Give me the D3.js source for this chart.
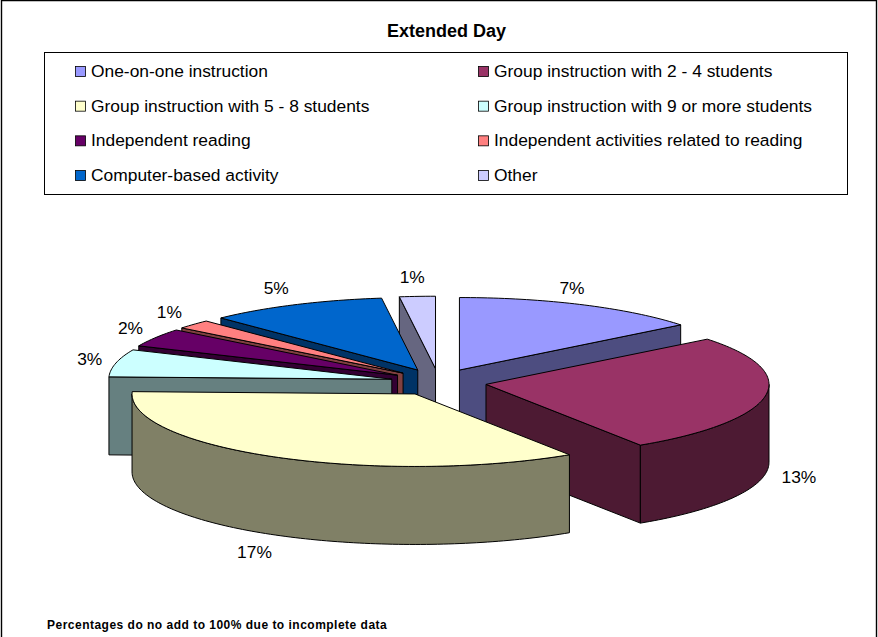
<!DOCTYPE html>
<html>
<head>
<meta charset="utf-8">
<style>
html,body{margin:0;padding:0;background:#fff;}
svg{display:block;}
text{font-family:"Liberation Sans",Arial,sans-serif;fill:#000;}
</style>
<script src="https://cdn.jsdelivr.net/npm/d3@7/dist/d3.min.js"></script>
</head>
<body>
<svg id="c" width="878" height="637"></svg>
<script>
const categories = ["One-on-one instruction","Group instruction with 2 - 4 students","Group instruction with 5 - 8 students","Group instruction with 9 or more students","Independent reading","Independent activities related to reading","Computer-based activity","Other"];
const values = [7,13,17,3,2,1,5,1];
const sliceColors = ["#9999FF","#993366","#FFFFCC","#CCFFFF","#660066","#FF8080","#0066CC","#CCCCFF"];
const wallColors = ["#4D4D80","#4D1A33","#808066","#668080","#330033","#804040","#003366","#666680"];
const drawOrder = [7,6,5,4,3,0,1,2];
const labelNudgeX = [-25,0,-5,7,4,1,-4,-3];
const titleText = "Extended Day";
const noteText = "Percentages do no add to 100% due to incomplete data";

const W = 878, H = 637;
const svg = d3.select("#c");
// frame: the reference shows no bottom edge
svg.append("path").attr("d",`M1.5,${H}V0.5H876.5V${H}`).attr("fill","none").attr("stroke","#000").attr("stroke-width",1.4);

svg.append("text").attr("x",446.5).attr("y",37).attr("text-anchor","middle")
  .attr("font-size",18).attr("font-weight","bold").text(titleText);

// legend
svg.append("rect").attr("x",44.5).attr("y",52.5).attr("width",803).attr("height",142)
  .attr("fill","#fff").attr("stroke","#000");
const legX = d3.scalePoint().domain([0,1]).range([75,478]);
const legY = d3.scaleLinear().domain([0,3]).range([66,170]);
const legend = svg.append("g").selectAll("g").data(categories).join("g")
  .attr("transform",(d,i)=>`translate(${legX(i%2)},${legY(Math.floor(i/2))})`);
legend.append("rect").attr("x",0.5).attr("y",0.5).attr("width",10).attr("height",10)
  .attr("fill",(d,i)=>sliceColors[i]).attr("stroke","#000").attr("stroke-width",0.8);
legend.append("text").attr("x",16).attr("y",11).attr("font-size",17.4).text(d=>d);

// 3-D exploded pie
const cx = 438.6, cy = 382.2, rx = 283, ry = 72.5, ex = 48, ey = 13.5, depth = 78;
const pie = d3.pie().sort(null).value(d=>d);
const arcs = pie(values);
const sx = d3.scaleLinear().domain([-1,1]).range([-rx,rx]);
const sy = d3.scaleLinear().domain([-1,1]).range([-ry,ry]);
const line = d3.line();
const pt = (a,ox,oy,dz=0)=>[ox+sx(Math.sin(a)), oy+sy(-Math.cos(a))+dz];
const arcPts = (a0,a1,ox,oy,dz=0)=>{
  const n = Math.max(2,Math.ceil((a1-a0)/0.02));
  return d3.range(n+1).map(i=>pt(a0+(a1-a0)*i/n,ox,oy,dz));
};
const pi = Math.PI;
const chart = svg.append("g").attr("stroke","#000").attr("stroke-width",1).attr("stroke-linejoin","round");
drawOrder.forEach(i=>{
  const d = arcs[i], a0=d.startAngle, a1=d.endAngle, m=(a0+a1)/2;
  const ox = cx+ex*Math.sin(m), oy = cy-ey*Math.cos(m);
  const g = chart.append("g");
  const wall = p=>g.append("path").attr("d",line(p)+"Z").attr("fill",wallColors[i]);
  if(Math.sin(a0)<0){
    const s=pt(a0,ox,oy);
    wall([s,[ox,oy],[ox,oy+depth],[s[0],s[1]+depth]]);
  }
  if(Math.sin(a1)>0){
    const e=pt(a1,ox,oy);
    wall([[ox,oy],e,[e[0],e[1]+depth],[ox,oy+depth]]);
  }
  const f0=Math.max(a0,pi/2), f1=Math.min(a1,3*pi/2);
  if(f1>f0){
    wall(arcPts(f0,f1,ox,oy).concat(arcPts(f0,f1,ox,oy,depth).reverse()));
  }
  g.append("path").attr("d",line([[ox,oy]].concat(arcPts(a0,a1,ox,oy)))+"Z").attr("fill",sliceColors[i]);
});

// value labels
svg.append("g").selectAll("text").data(arcs).join("text")
  .attr("text-anchor","middle").attr("font-size",17.4)
  .attr("x",(d,i)=>cx+365*Math.sin((d.startAngle+d.endAngle)/2)+labelNudgeX[i])
  .attr("y",d=>{
    const c=Math.cos((d.startAngle+d.endAngle)/2);
    return cy-105*c+(c<0?depth:0)+6;
  })
  .text(d=>d.value+"%");

svg.append("text").attr("x",47).attr("y",629).attr("font-size",12).attr("letter-spacing",0.49).attr("font-weight","bold").text(noteText);
</script>
</body>
</html>
